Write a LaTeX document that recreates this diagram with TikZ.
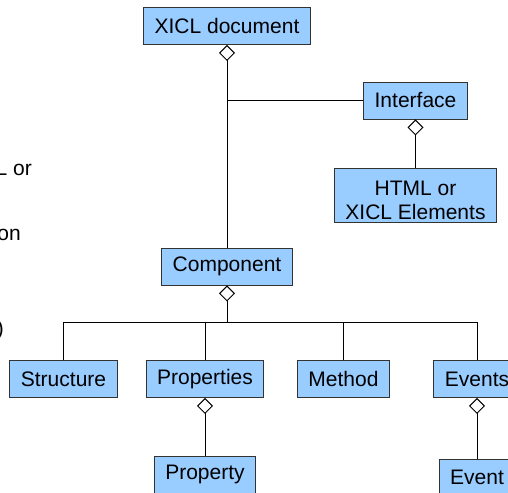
\documentclass[tikz,border=0pt]{standalone}
\usepackage{fontspec}
\setmainfont{Liberation Sans}
\usetikzlibrary{arrows.meta}
\definecolor{boxblue}{RGB}{153,204,255}
\tikzstyle{cls} = [draw=black!80, fill=boxblue, line width=0.9pt, inner xsep=11pt, minimum height=37pt, font=\fontsize{21}{24}\selectfont]
\tikzstyle{frag} = [font=\fontsize{21}{24}\selectfont, inner sep=0pt, anchor=base east]
\tikzstyle{link} = [line width=1pt]
\tikzstyle{has} = [link, {Diamond[open,length=16pt,width=16pt]}-]

\begin{document}
\begin{tikzpicture}[x=1pt,y=-1pt]
			\useasboundingbox (0,0) rectangle (508,492);
			\clip (0,0) rectangle (508,492);
			% cut-off text at the left edge
			\node[frag] (fragA) at (32,175) {L or};
			\node[frag] (fragB) at (21,240) {on};
			\node[frag] (fragC) at (4,335) {)};
			% classes
			\node[cls] (doc) at (227,26) {XICL document};
			\node[cls] (iface) at (415.5,100.5) {Interface};
			\node[cls, align=center, inner ysep=2pt, minimum height=54pt] (html) at (415.5,195) {\rule{0pt}{25pt}HTML or\\XICL Elements};
			\node[cls] (comp) at (227,266.5) {Component};
			\node[cls] (struct) at (63.5,379) {Structure};
			\node[cls] (props) at (205,379) {Properties};
			\node[cls] (meth) at (343.5,379) {Method};
			\node[cls] (events) at (477,379) {Events};
			\node[cls] (prop) at (205,474.5) {Property};
			\node[cls] (event) at (477,477.5) {Event};
			% aggregations
			\draw[has] (doc.south) -- (comp.north);
			\coordinate (ifj) at (doc.south |- iface.west);
			\draw[link] (ifj) -- (iface.west);
			\draw[has] (iface.south) -- (html.north);
			\draw[has] (comp.south) -- ++(0,37) coordinate (bus);
			\draw[link] (struct.north) |- (bus) -| (events.north);
			\draw[link] (props.north) -- (props.north |- bus);
			\draw[link] (meth.north) -- (meth.north |- bus);
			\draw[has] (props.south) -- (prop.north);
			\draw[has] (events.south) -- (event.north);
		\end{tikzpicture}
\end{document}
